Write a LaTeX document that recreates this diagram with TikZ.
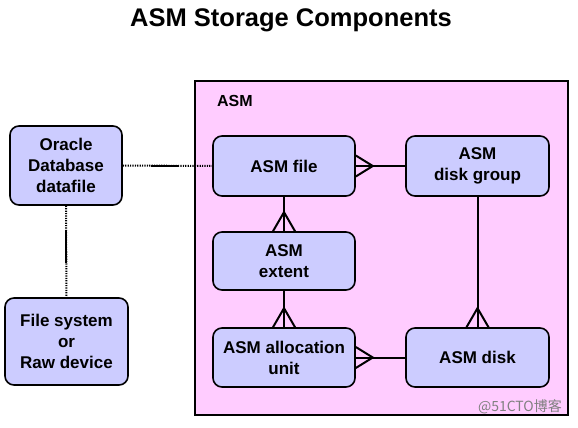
\documentclass[tikz,border=0pt]{standalone}
\usepackage{fontspec}
\setmainfont{Liberation Sans}
\newfontfamily\cjkfont{Noto Sans CJK SC}
\definecolor{asmpink}{RGB}{255,204,255}
\definecolor{partblue}{RGB}{204,204,255}

\begin{document}
\begin{tikzpicture}[x=1pt,y=-1pt,line width=1.6pt,
    part/.style={draw,fill=partblue,rounded corners=9pt,align=center,
        font=\fontsize{17}{21}\selectfont\bfseries,inner sep=0pt},
    link/.style={line width=2pt},
    loose/.style={line width=2pt,dash pattern=on 1.2pt off 1.2pt}]
                \useasboundingbox (0,0) rectangle (578,428);
                \node[font=\fontsize{25.5}{29}\selectfont\bfseries] (title) at (291,20) {ASM Storage Components};
                \filldraw[fill=asmpink] (195,81) rectangle (568,415);
                \node[font=\fontsize{16}{19}\selectfont\bfseries,anchor=west] (asm) at (213,101) {ASM};
                \node[part,minimum width=112pt,minimum height=79pt] (oracle) at (66,165.5) {Oracle\\Database\\datafile};
                \node[part,minimum width=123pt,minimum height=87pt] (fsraw) at (66.5,341.5) {File system\\or\\ Raw device};
                \node[part,minimum width=142pt,minimum height=60pt] (asmfile) at (284,166) {ASM file};
                \node[part,minimum width=143pt,minimum height=60pt] (diskgroup) at (477.5,166) {ASM\\disk group};
                \node[part,minimum width=142pt,minimum height=58pt] (extent) at (284,261) {ASM\\extent};
                \node[part,minimum width=142pt,minimum height=59pt] (alloc) at (284,357.5) {ASM allocation\\unit};
                \node[part,minimum width=143pt,minimum height=59pt] (disk) at (477.5,357.5) {ASM disk};
                % loose links from the database side
                \draw[loose] (oracle.east) -- (asmfile.west);
                \draw[link] ([xshift=28pt]oracle.east) -- ([xshift=56pt]oracle.east);
                \draw[loose] (oracle.south) -- (fsraw.north);
                \draw[link] ([yshift=-25pt]oracle.south) -- ([yshift=-57pt]oracle.south);
                % crow's feet inside ASM
                \draw[link] (diskgroup.west) -- (asmfile.east);
                \draw[link] ([yshift=10.5pt]asmfile.east) -- ([xshift=17pt]asmfile.east) -- ([yshift=-10.5pt]asmfile.east);
                \draw[link] (asmfile.south) -- (extent.north);
                \draw[link] ([xshift=-11pt]extent.north) -- ([yshift=19pt]extent.north) -- ([xshift=11pt]extent.north);
                \draw[link] (extent.south) -- (alloc.north);
                \draw[link] ([xshift=-11pt]alloc.north) -- ([yshift=19pt]alloc.north) -- ([xshift=11pt]alloc.north);
                \draw[link] (disk.west) -- (alloc.east);
                \draw[link] ([yshift=10.5pt]alloc.east) -- ([xshift=17pt]alloc.east) -- ([yshift=-10.5pt]alloc.east);
                \draw[link] (diskgroup.south) -- (disk.north);
                \draw[link] ([xshift=-11pt]disk.north) -- ([yshift=19pt]disk.north) -- ([xshift=11pt]disk.north);
                \node[gray,font=\cjkfont\fontsize{14}{16}\selectfont,anchor=east] (mark) at (566,407) {@51CTO博客};
            \end{tikzpicture}
\end{document}
